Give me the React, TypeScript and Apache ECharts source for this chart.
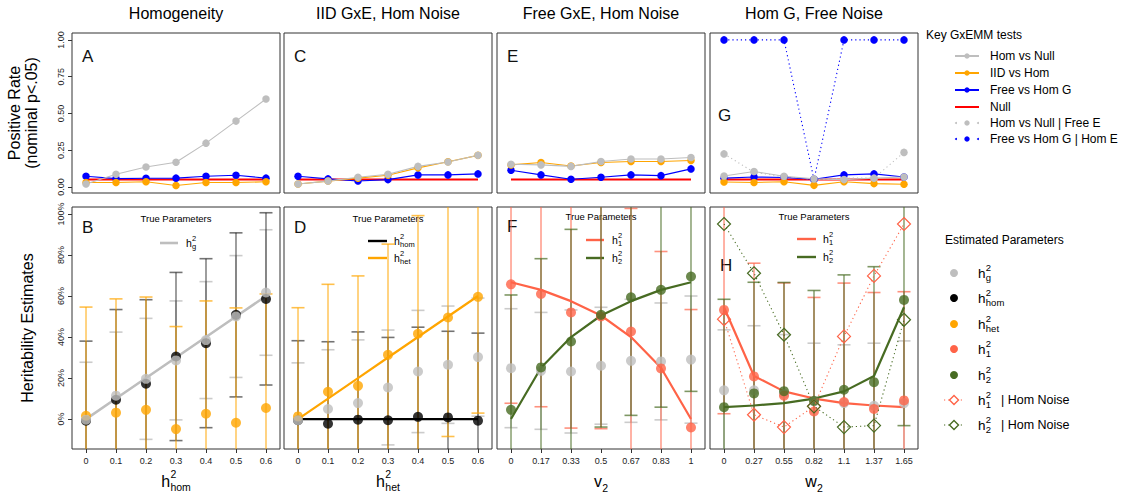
import React, { useEffect, useRef } from 'react';
import * as echarts from 'echarts';

const FONT = '"Liberation Sans", Arial, Helvetica, sans-serif';

// ---------- categories / tick labels ----------
const hHomLabels = ['0', '0.1', '0.2', '0.3', '0.4', '0.5', '0.6'];
const hHetLabels = ['0', '0.1', '0.2', '0.3', '0.4', '0.5', '0.6'];
const v2Labels = ['0', '0.17', '0.33', '0.5', '0.67', '0.83', '1'];
const w2Labels = ['0', '0.27', '0.55', '0.82', '1.1', '1.37', '1.65'];
const panelTitles = ['Homogeneity', 'IID GxE, Hom Noise', 'Free GxE, Hom Noise', 'Hom G, Free Noise'];
const rateTicks = [0, 0.25, 0.5, 0.75, 1];
const heritTicks = [0, 0.2, 0.4, 0.6, 0.8, 1];
const NULL_RATE = 0.05;

// ---------- top row: positive rates ----------
const aHomNull = [0.02, 0.086, 0.136, 0.168, 0.298, 0.448, 0.598];
const aIid = [0.03, 0.03, 0.036, 0.01, 0.03, 0.03, 0.035];
const aFree = [0.073, 0.057, 0.059, 0.06, 0.073, 0.08, 0.06];

const cHomNull = [0.02, 0.04, 0.066, 0.086, 0.14, 0.17, 0.216];
const cIid = [0.02, 0.04, 0.06, 0.08, 0.13, 0.172, 0.215];
const cFree = [0.073, 0.055, 0.041, 0.05, 0.082, 0.082, 0.089];

const eHomNull = [0.155, 0.15, 0.14, 0.173, 0.19, 0.19, 0.2];
const eIid = [0.15, 0.166, 0.143, 0.166, 0.173, 0.173, 0.18];
const eFree = [0.114, 0.082, 0.052, 0.066, 0.082, 0.077, 0.123];

const gHomNull = [0.075, 0.105, 0.073, 0.055, 0.05, 0.06, 0.068];
const gIid = [0.034, 0.03, 0.036, 0.011, 0.036, 0.023, 0.018];
const gFree = [0.06, 0.068, 0.064, 0.052, 0.082, 0.089, 0.068];
const gHomNullFreeE = [0.225, 0.1, 0.07, 0.05, 0.06, 0.06, 0.235];
const gFreeHomE = [1, 1, 1, 0.05, 1, 1, 1];

// ---------- bottom row: heritability estimates (point, half-width of bar) ----------
const bTrueHg = [0, 0.1, 0.2, 0.3, 0.4, 0.5, 0.6];
const bHg = [-0.003, 0.114, 0.196, 0.286, 0.385, 0.5, 0.617];
const bHgErr = [0.28, 0.31, 0.295, 0.29, 0.285, 0.297, 0.306];
const bHhom = [-0.008, 0.094, 0.172, 0.305, 0.37, 0.508, 0.586];
const bHhomErr = [0.388, 0.44, 0.41, 0.41, 0.412, 0.4, 0.42];
const bHhet = [0.016, 0.031, 0.045, -0.049, 0.026, -0.018, 0.054];
const bHhetErr = [0.53, 0.555, 0.55, 0.5, 0.55, 0.56, 0.556];

const dTrueHom = [0, 0, 0, 0, 0, 0, 0];
const dTrueHet = [0, 0.1, 0.2, 0.3, 0.4, 0.5, 0.6];
const dHg = [-0.006, 0.049, 0.078, 0.154, 0.232, 0.265, 0.302];
const dHgErr = [0.28, 0.289, 0.308, 0.28, 0.298, 0.286, 0.288];
const dHhom = [-0.006, -0.023, -0.003, -0.006, 0.011, 0.008, -0.008];
const dHhomErr = [0.388, 0.4, 0.428, 0.404, 0.437, 0.42, 0.427];
const dHhet = [0.013, 0.133, 0.162, 0.313, 0.416, 0.495, 0.596];
const dHhetErr = [0.53, 0.524, 0.536, 0.54, 0.576, 0.58, 0.567];

const fTrue1 = [0.667, 0.63, 0.575, 0.505, 0.4, 0.25, 0];
const fTrue2 = [0, 0.25, 0.4, 0.505, 0.575, 0.63, 0.667];
const fH1 = [0.657, 0.61, 0.52, 0.5, 0.427, 0.247, -0.041];
const fH1Err = [0.58, 0.55, 0.564, 0.547, 0.6, 0.57, 0.575];
const fH2 = [0.045, 0.252, 0.378, 0.508, 0.594, 0.63, 0.695];
const fH2Err = [0.56, 0.53, 0.547, 0.547, 0.576, 0.572, 0.56];
const fHg = [0.248, 0.235, 0.232, 0.26, 0.284, 0.281, 0.29];
const fHgErr = [0.29, 0.285, 0.3, 0.285, 0.3, 0.285, 0.31];

const hTrue1 = [0.545, 0.21, 0.135, 0.1, 0.078, 0.066, 0.058];
const hTrue2 = [0.058, 0.066, 0.078, 0.1, 0.135, 0.21, 0.545];
const hH1 = [0.532, 0.208, 0.114, 0.037, 0.083, 0.049, 0.091];
const hH1Err = [0.506, 0.552, 0.55, 0.556, 0.58, 0.568, 0.53];
const hH2 = [0.058, 0.125, 0.136, 0.089, 0.143, 0.18, 0.581];
const hH2Err = [0.526, 0.542, 0.53, 0.538, 0.56, 0.563, 0.613];
const hHg = [0.14, 0.14, 0.122, 0.086, 0.078, 0.065, 0.078];
const hHgErr = [0.295, 0.315, 0.29, 0.284, 0.284, 0.305, 0.303];
const hNoise1 = [0.487, 0.021, -0.039, 0.062, 0.403, 0.698, 0.951];
const hNoise2 = [0.951, 0.711, 0.411, 0.062, -0.039, -0.032, 0.484];

// ---------- styling ----------
const GRAY = '#bebebe';
const ORANGE = '#FFA500';
const BLUE = '#0000FF';
const RED = '#FF0000';
const TOMATO = '#FF6347';
const OLIVE = '#476b22';
const BLACK = '#000000';
const EB = {
  gray: 'rgba(190,190,190,0.8)',
  black: 'rgba(0,0,0,0.55)',
  orange: 'rgba(255,165,0,0.7)',
  tomato: 'rgba(255,99,71,0.7)',
  olive: 'rgba(71,107,34,0.7)',
};

const LEFTS = [72, 284, 497, 710];
const PW = 208;
const TOP_T = 33, TOP_H = 160;
const BOT_T = 207, BOT_H = 242;
const XMIN = -0.467, XMAX = 6.467;
const TOP_MIN = -0.041, TOP_MAX = 1.047;
const BOT_MIN = -0.146, BOT_MAX = 1.034;
const XIDX = [0, 1, 2, 3, 4, 5, 6];

const pairs = (arr: number[]) => arr.map((v, i) => [XIDX[i], v]);

function T(text: string, x: number, y: number, fs: number, o: any = {}) {
  return {
    type: 'text', x, y, silent: true, rotation: o.rot || 0,
    style: {
      text, fontSize: fs, fontFamily: FONT, fill: o.fill || '#000',
      textAlign: o.align || 'left', textVerticalAlign: o.valign || 'middle',
    },
  };
}

// h^2_sub label, left edge at x
function hMath(x: number, y: number, sub: string, fs: number, sfs: number) {
  const hx = x + fs * 0.58;
  return [
    T('h', x, y, fs),
    T('2', hx, y - fs * 0.42, sfs),
    T(sub, hx, y + fs * 0.36, sfs),
  ];
}

function errorBars(gi: number, centers: number[], errs: number[], color: string) {
  return {
    type: 'custom',
    xAxisIndex: gi, yAxisIndex: gi, z: 1, silent: true,
    data: centers.map((c, i) => [XIDX[i], c - errs[i], c + errs[i]]),
    encode: { x: 0, y: [1, 2] },
    renderItem: (_p: any, api: any) => {
      const x = api.value(0), lo = api.value(1), hi = api.value(2);
      const top = api.coord([x, Math.min(hi, BOT_MAX)]);
      const bot = api.coord([x, Math.max(lo, BOT_MIN)]);
      const cap = 6.5;
      const children: any[] = [
        { type: 'line', shape: { x1: top[0], y1: top[1], x2: bot[0], y2: bot[1] }, style: { stroke: color, lineWidth: 1.4 } },
      ];
      if (hi <= BOT_MAX) children.push({ type: 'line', shape: { x1: top[0] - cap, y1: top[1], x2: top[0] + cap, y2: top[1] }, style: { stroke: color, lineWidth: 1.6 } });
      if (lo >= BOT_MIN) children.push({ type: 'line', shape: { x1: bot[0] - cap, y1: bot[1], x2: bot[0] + cap, y2: bot[1] }, style: { stroke: color, lineWidth: 1.6 } });
      return { type: 'group', children };
    },
  };
}

function rateLine(gi: number, data: number[], color: string, dotted = false) {
  return {
    type: 'line', xAxisIndex: gi, yAxisIndex: gi, data: pairs(data), z: 3, silent: true,
    symbol: 'circle', symbolSize: 7.5, showSymbol: true,
    lineStyle: { color, width: 1.1, type: dotted ? [1.2, 3] : 'solid' },
    itemStyle: { color },
  };
}

function nullLine(gi: number) {
  return {
    type: 'line', xAxisIndex: gi, yAxisIndex: gi, data: pairs(XIDX.map(() => NULL_RATE)), z: 2, silent: true,
    symbol: 'none', lineStyle: { color: RED, width: 2 },
  };
}

function trueLine(gi: number, data: number[], color: string, width = 2.2) {
  return {
    type: 'line', xAxisIndex: gi, yAxisIndex: gi, data: pairs(data), z: 2, silent: true,
    symbol: 'none', lineStyle: { color, width },
  };
}

function points(gi: number, data: number[], color: string) {
  return {
    type: 'scatter', xAxisIndex: gi, yAxisIndex: gi, data: pairs(data), z: 3, silent: true,
    symbol: 'circle', symbolSize: 10, itemStyle: { color },
  };
}

function diamonds(gi: number, data: number[], color: string) {
  return {
    type: 'line', xAxisIndex: gi, yAxisIndex: gi, data: pairs(data), z: 4, silent: true,
    symbol: 'diamond', symbolSize: 13, showSymbol: true,
    lineStyle: { color, width: 1.1, type: [1.2, 3] },
    itemStyle: { color: 'rgba(0,0,0,0)', borderColor: color, borderWidth: 1.2 },
  };
}

function buildOption() {
  const grids: any[] = [];
  const xAxes: any[] = [];
  const yAxes: any[] = [];
  const xLabelSets = [hHomLabels, hHetLabels, v2Labels, w2Labels];
  for (let row = 0; row < 2; row++) {
    for (let c = 0; c < 4; c++) {
      const gi = row * 4 + c;
      grids.push({
        left: LEFTS[c], top: row === 0 ? TOP_T : BOT_T, width: PW, height: row === 0 ? TOP_H : BOT_H,
        show: true, borderColor: '#333', borderWidth: 1, backgroundColor: 'transparent', containLabel: false,
      });
      const showX = row === 1;
      const labels = xLabelSets[c];
      xAxes.push({
        gridIndex: gi, type: 'value', min: XMIN, max: XMAX, position: 'bottom',
        axisLine: { show: false, onZero: false }, splitLine: { show: false }, minorTick: { show: false },
        axisTick: showX ? { show: true, inside: false, length: 4, customValues: XIDX, lineStyle: { color: '#333' } } : { show: false },
        axisLabel: showX ? {
          show: true, customValues: XIDX, formatter: (v: number) => labels[Math.round(v)],
          fontSize: 9, color: '#222', margin: 7, fontFamily: FONT,
        } : { show: false },
      });
      const showY = c === 0;
      const ticks = row === 0 ? rateTicks : heritTicks;
      yAxes.push({
        gridIndex: gi, type: 'value', position: 'left',
        min: row === 0 ? TOP_MIN : BOT_MIN, max: row === 0 ? TOP_MAX : BOT_MAX,
        axisLine: { show: false, onZero: false }, splitLine: { show: false }, minorTick: { show: false },
        axisTick: showY ? { show: true, inside: false, length: 4, customValues: ticks, lineStyle: { color: '#333' } } : { show: false },
        axisLabel: showY ? {
          show: true, customValues: ticks, rotate: 90, margin: 7, fontSize: 9, color: '#222', fontFamily: FONT,
          formatter: row === 0 ? (v: number) => v.toFixed(2) : (v: number) => `${Math.round(v * 100)}%`,
        } : { show: false },
      });
    }
  }

  const series: any[] = [
    // A
    nullLine(0), rateLine(0, aFree, BLUE), rateLine(0, aIid, ORANGE), rateLine(0, aHomNull, GRAY),
    // C
    nullLine(1), rateLine(1, cFree, BLUE), rateLine(1, cIid, ORANGE), rateLine(1, cHomNull, GRAY),
    // E
    nullLine(2), rateLine(2, eFree, BLUE), rateLine(2, eIid, ORANGE), rateLine(2, eHomNull, GRAY),
    // G
    nullLine(3), rateLine(3, gHomNullFreeE, GRAY, true), rateLine(3, gFreeHomE, BLUE, true),
    rateLine(3, gFree, BLUE), rateLine(3, gIid, ORANGE), rateLine(3, gHomNull, GRAY),
    // B
    errorBars(4, bHg, bHgErr, EB.gray), errorBars(4, bHhom, bHhomErr, EB.black), errorBars(4, bHhet, bHhetErr, EB.orange),
    trueLine(4, bTrueHg, GRAY, 2.6),
    points(4, bHhom, BLACK), points(4, bHhet, ORANGE), points(4, bHg, GRAY),
    // D
    errorBars(5, dHg, dHgErr, EB.gray), errorBars(5, dHhom, dHhomErr, EB.black), errorBars(5, dHhet, dHhetErr, EB.orange),
    trueLine(5, dTrueHom, BLACK), trueLine(5, dTrueHet, ORANGE),
    points(5, dHhom, BLACK), points(5, dHhet, ORANGE), points(5, dHg, GRAY),
    // F
    errorBars(6, fHg, fHgErr, EB.gray), errorBars(6, fH1, fH1Err, EB.tomato), errorBars(6, fH2, fH2Err, EB.olive),
    trueLine(6, fTrue1, TOMATO), trueLine(6, fTrue2, OLIVE),
    points(6, fHg, GRAY), points(6, fH1, TOMATO), points(6, fH2, OLIVE),
    // H
    errorBars(7, hHg, hHgErr, EB.gray), errorBars(7, hH1, hH1Err, EB.tomato), errorBars(7, hH2, hH2Err, EB.olive),
    trueLine(7, hTrue1, TOMATO), trueLine(7, hTrue2, OLIVE),
    points(7, hHg, GRAY), points(7, hH1, TOMATO), points(7, hH2, OLIVE),
    diamonds(7, hNoise1, TOMATO), diamonds(7, hNoise2, OLIVE),
  ];

  // ---------- graphic texts ----------
  const g: any[] = [];
  const centers = LEFTS.map((l) => l + PW / 2);
  panelTitles.forEach((t, i) => g.push(T(t, centers[i], 13, 16, { align: 'center' })));
  g.push(T('Positive Rate', 14, 113, 16, { align: 'center', rot: Math.PI / 2 }));
  g.push(T('(nominal p<.05)', 31, 113, 16, { align: 'center', rot: Math.PI / 2 }));
  g.push(T('Heritability Estimates', 27, 328, 16, { align: 'center', rot: Math.PI / 2 }));

  const letters: [string, number, number][] = [
    ['A', 82, 56], ['C', 294, 56], ['E', 507, 56], ['G', 718, 115],
    ['B', 82, 227], ['D', 294, 227], ['F', 507, 226], ['H', 720, 265],
  ];
  letters.forEach(([t, x, y]) => g.push(T(t, x, y, 17, { fill: '#111' })));

  // x-axis titles
  const fsX = 16, sX = 10.5;
  const hw = fsX * 0.58;
  g.push(...hMath(centers[0] - (hw + sX * 1.945) / 2, 481, 'hom', fsX, sX));
  g.push(...hMath(centers[1] - (hw + sX * 1.39) / 2, 481, 'het', fsX, sX));
  const vw = fsX * 0.52 + sX * 0.556;
  g.push(T('v', centers[2] - vw / 2, 481, fsX), T('2', centers[2] - vw / 2 + fsX * 0.52, 488, sX));
  const ww = fsX * 0.74 + sX * 0.556;
  g.push(T('w', centers[3] - ww / 2, 481, fsX), T('2', centers[3] - ww / 2 + fsX * 0.74, 488, sX));

  // inner "True Parameters" legends
  const innerLine = (x1: number, x2: number, y: number, color: string, w = 2.4) => ({
    type: 'line', silent: true, shape: { x1, y1: y, x2, y2: y }, style: { stroke: color, lineWidth: w },
  });
  const fsI = 10.5, sI = 7.5;
  g.push(T('True Parameters', centers[0], 218, 9.5, { align: 'center' }));
  g.push(innerLine(160, 178, 243, GRAY, 2.6), ...hMath(186, 243, 'g', fsI, sI));
  g.push(T('True Parameters', centers[1], 218, 9.5, { align: 'center' }));
  g.push(innerLine(368, 387, 241, BLACK), ...hMath(394, 241, 'hom', fsI, sI));
  g.push(innerLine(368, 387, 258, ORANGE), ...hMath(394, 258, 'het', fsI, sI));
  g.push(T('True Parameters', centers[2], 216, 9.5, { align: 'center' }));
  g.push(innerLine(586, 604, 240, TOMATO), ...hMath(612, 240, '1', fsI, sI));
  g.push(innerLine(586, 604, 258, OLIVE), ...hMath(612, 258, '2', fsI, sI));
  g.push(T('True Parameters', centers[3], 216, 9.5, { align: 'center' }));
  g.push(innerLine(797, 816, 239, TOMATO), ...hMath(823, 239, '1', fsI, sI));
  g.push(innerLine(797, 816, 257, OLIVE), ...hMath(823, 257, '2', fsI, sI));

  // right legend: tests
  g.push(T('Key GxEMM tests', 926, 35, 12));
  const testEntries: [string, string, string][] = [
    ['Hom vs Null', GRAY, 'solid'], ['IID vs Hom', ORANGE, 'solid'], ['Free vs Hom G', BLUE, 'solid'],
    ['Null', RED, 'none'], ['Hom vs Null | Free E', GRAY, 'dotted'], ['Free vs Hom G | Hom E', BLUE, 'dotted'],
  ];
  const testY = [56, 73, 90, 107, 123, 139];
  testEntries.forEach(([label, color, kind], i) => {
    const y = testY[i];
    if (kind === 'dotted') {
      g.push({ type: 'circle', silent: true, shape: { cx: 956, cy: y, r: 1 }, style: { fill: color } });
      g.push({ type: 'circle', silent: true, shape: { cx: 978, cy: y, r: 1 }, style: { fill: color } });
      g.push({ type: 'circle', silent: true, shape: { cx: 967, cy: y, r: 2.7 }, style: { fill: color } });
    } else {
      g.push(innerLine(955, 979, y, color, 2));
      if (kind === 'solid') g.push({ type: 'circle', silent: true, shape: { cx: 967, cy: y, r: 2.7 }, style: { fill: color } });
    }
    g.push(T(label, 990, y, 12));
  });

  // right legend: estimated parameters
  g.push(T('Estimated Parameters', 945, 240, 12));
  const estEntries: [string, string][] = [['g', GRAY], ['hom', BLACK], ['het', ORANGE], ['1', TOMATO], ['2', OLIVE]];
  const estY = [273, 298, 324, 349, 375];
  estEntries.forEach(([sub, color], i) => {
    g.push({ type: 'circle', silent: true, shape: { cx: 954, cy: estY[i], r: 4 }, style: { fill: color } });
    g.push(...hMath(978, estY[i], sub, 13.5, 9.5));
  });
  const noiseEntries: [string, string, number][] = [['1', TOMATO, 400], ['2', OLIVE, 425]];
  noiseEntries.forEach(([sub, color, y]) => {
    g.push({ type: 'line', silent: true, shape: { x1: 944, y1: y, x2: 965, y2: y }, style: { stroke: color, lineWidth: 1.2, lineDash: [1.2, 3] } });
    g.push({
      type: 'polygon', silent: true,
      shape: { points: [[954, y - 4.5], [958.5, y], [954, y + 4.5], [949.5, y]] },
      style: { fill: '#fff', stroke: color, lineWidth: 1.4 },
    });
    g.push(...hMath(978, y, sub, 13.5, 9.5));
    g.push(T('| Hom Noise', 1001, y, 12.5));
  });

  return {
    animation: false,
    backgroundColor: '#ffffff',
    textStyle: { fontFamily: FONT },
    grid: grids,
    xAxis: xAxes,
    yAxis: yAxes,
    series,
    graphic: { elements: g },
  };
}

export default function App() {
  const ref = useRef<HTMLDivElement>(null);
  useEffect(() => {
    if (!ref.current) return;
    const chart = echarts.init(ref.current, undefined, { renderer: 'svg' });
    chart.setOption(buildOption() as any);
    return () => chart.dispose();
  }, []);
  return (
    <div
      ref={ref}
      style={{ position: 'absolute', left: 0, top: 0, width: 1125, height: 498, background: '#fff' }}
    />
  );
}
